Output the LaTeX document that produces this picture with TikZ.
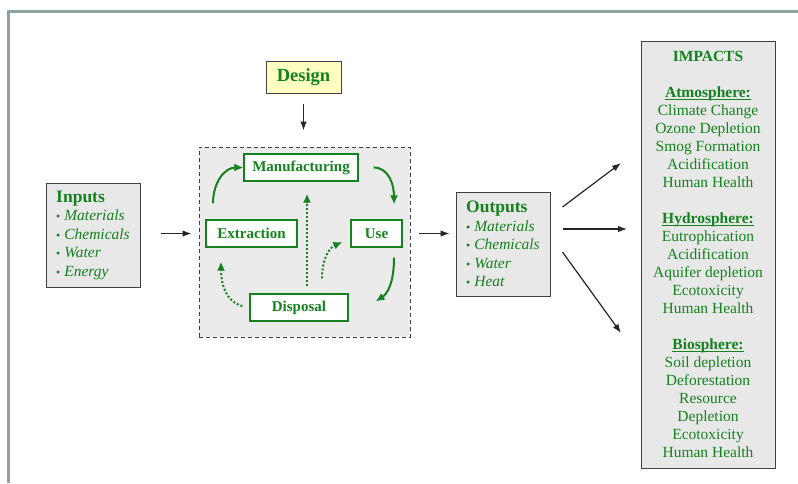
\documentclass[tikz,border=0pt]{standalone}
\usepackage{fontspec}
\setmainfont{Liberation Serif}
\usetikzlibrary{arrows.meta}
\definecolor{leafgreen}{RGB}{20,130,30}
\definecolor{framegray}{RGB}{140,164,166}
\definecolor{designyellow}{RGB}{255,255,192}
\newcommand{\bul}{{\fontsize{12}{12}\selectfont •}\ }
\newcommand{\sphere}[1]{\underline{\smash{\textbf{#1}}}}
\begin{document}
\begin{tikzpicture}[x=1pt,y=-1pt,
	graybox/.style={draw=black!75, line width=1pt, fill=black!9, text=leafgreen, inner sep=0pt},
	stagebox/.style={draw=leafgreen, line width=1.2pt, fill=white, text=leafgreen, font=\bfseries\fontsize{15}{17}\selectfont, inner sep=0pt, minimum height=27pt},
	flow/.style={-{Latex[length=9pt,width=6.5pt]}, line width=1.2pt, black!85},
	loopflow/.style={-{Latex[length=9pt,width=8pt]}, line width=2pt, leafgreen},
	returnflow/.style={loopflow, dash pattern=on 2pt off 2pt}]
	\useasboundingbox (0,0) rectangle (798,483);

	\draw[framegray, line width=3pt] (8,483) -- (8,11) -- (798,11);

	\node[draw=black!75, line width=1pt, fill=designyellow, text=leafgreen, font=\bfseries\fontsize{18.5}{20}\selectfont, minimum width=75pt, minimum height=32pt, inner sep=0pt] (design) at (303.5,77) {Design};

	\node[draw=black!75, dash pattern=on 4pt off 3pt, line width=1pt, fill=black!8, minimum width=211pt, minimum height=190pt] (cyclebox) at (304.5,242) {};
	\node[stagebox, minimum width=114pt] (manuf) at (301,167.5) {Manufacturing};
	\node[stagebox, minimum width=91pt] (extraction) at (251.5,233.5) {Extraction};
	\node[stagebox, minimum width=51pt] (use) at (376.5,233.5) {Use};
	\node[stagebox, minimum width=98pt] (disposal) at (299,307.5) {Disposal};

	\node[graybox, minimum width=94pt, minimum height=104pt, align=left, font=\fontsize{15.5}{18.5}\selectfont] (inputs) at (93,235)
		{{\bfseries\fontsize{17.5}{20}\selectfont Inputs}\\ \bul\textit{Materials}\\ \bul\textit{Chemicals}\\ \bul\textit{Water}\\ \bul\textit{Energy}};
	\node[graybox, minimum width=94pt, minimum height=104pt, align=left, font=\fontsize{15.5}{18.5}\selectfont] (outputs) at (503,244)
		{{\bfseries\fontsize{17.5}{20}\selectfont Outputs}\\ \bul\textit{Materials}\\ \bul\textit{Chemicals}\\ \bul\textit{Water}\\ \bul\textit{Heat}};

	\node[graybox, minimum width=134pt, minimum height=427pt, align=center, font=\fontsize{15.5}{18}\selectfont] (impacts) at (708,254.5)
		{\textbf{IMPACTS}\\[18pt]
		\sphere{Atmosphere:}\\ Climate Change\\ Ozone Depletion\\ Smog Formation\\ Acidification\\ Human Health\\[18pt]
		\sphere{Hydrosphere:}\\ Eutrophication\\ Acidification\\ Aquifer depletion\\ Ecotoxicity\\ Human Health\\[18pt]
		\sphere{Biosphere:}\\ Soil depletion\\ Deforestation\\ Resource\\ Depletion\\ Ecotoxicity\\ Human Health};

	\coordinate (toAtmo) at (621,163);
	\coordinate (toHydro) at (627,229);
	\coordinate (toBio) at (621,333);

	\draw[flow, shorten <=10pt, shorten >=16pt] (design.south) -- (design.south |- cyclebox.north);
	\draw[flow, shorten <=20pt, shorten >=7pt] (inputs.east |- extraction) -- (cyclebox.west |- extraction);
	\draw[flow, shorten <=8pt, shorten >=6pt] (cyclebox.east |- extraction) -- (outputs.west |- extraction);
	\draw[flow] (outputs.east) ++(12,-37) -- (toAtmo);
	\draw[flow] (outputs.east) ++(12,-15) -- (toHydro);
	\draw[flow] (outputs.east) ++(12,8) -- (toBio);

	\draw[loopflow] ([shift={(-38.5,-16)}]extraction.north) .. controls +(0,-22) and +(-18,0) .. (manuf.west);
	\draw[loopflow] ([shift={(15,0)}]manuf.east) .. controls +(15,0) and +(0,-20) .. ([shift={(17.5,-15)}]use.north);
	\draw[loopflow] ([shift={(17.5,10)}]use.south) .. controls +(0,25) and +(12,-8) .. ([shift={(27,-6)}]disposal.east);

	\draw[returnflow] ([shift={(-7,-1.5)}]disposal.west) .. controls +(-20,-5) and +(0,15) .. ([shift={(-30.5,14)}]extraction.south);
	\draw[returnflow] ([shift={(8,-7)}]disposal.north) -- ([shift={(6,12)}]manuf.south);
	\draw[returnflow] ([shift={(23,-15)}]disposal.north) .. controls +(0,-18) and +(-14,6) .. ([shift={(-8,8.5)}]use.west);

\end{tikzpicture}
\end{document}
